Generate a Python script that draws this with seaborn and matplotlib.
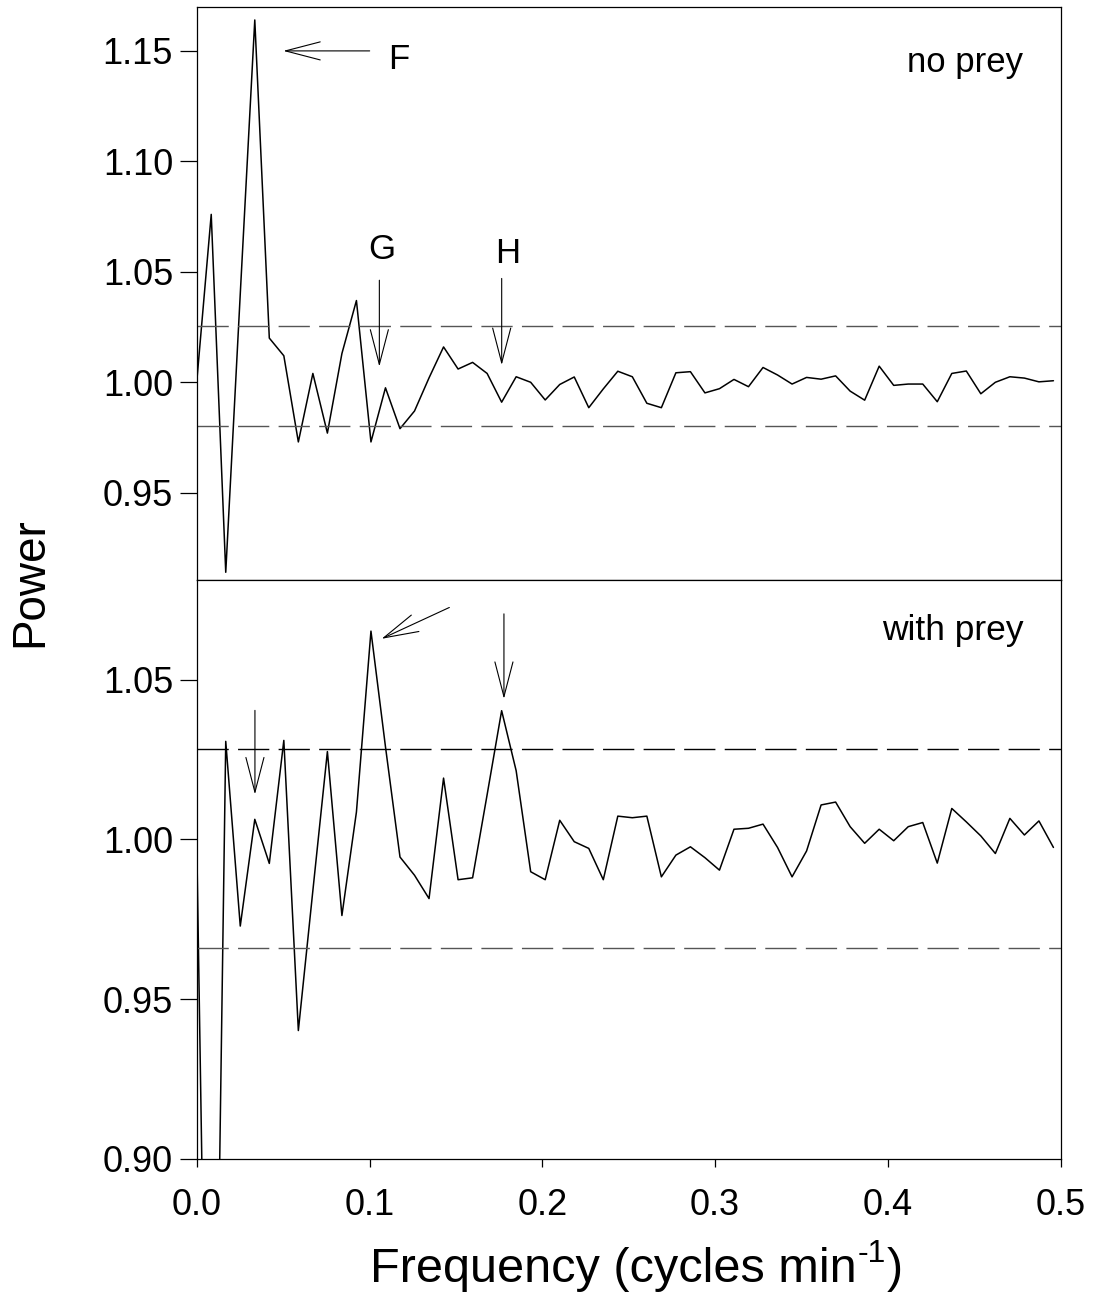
import numpy as np
import pandas as pd
import seaborn as sns
import matplotlib
matplotlib.use('Agg')
import matplotlib.pyplot as plt

# frequency grid (cycles/min), 60 periodogram points
freq = np.arange(60) / 119

no_prey = [1.000, 1.076, 0.914, 1.040, 1.164, 1.020, 1.012, 0.973, 1.004, 0.977,
           1.013, 1.037, 0.973, 0.9975, 0.979, 0.987, 1.002, 1.016, 1.006, 1.009,
           1.004, 0.991, 1.0025, 1.000, 0.992, 0.999, 1.0024, 0.9885, 0.997, 1.005,
           1.0025, 0.9905, 0.9885, 1.0043, 1.0048, 0.9952, 0.9971, 1.0013, 0.998, 1.0067,
           1.0033, 0.9992, 1.0022, 1.0014, 1.0029, 0.996, 0.9919, 1.0073, 0.9986, 0.9992,
           0.9992, 0.9912, 1.004, 1.0051, 0.9948, 1.000, 1.0025, 1.0019, 1.0002, 1.0007]

with_prey = [1.000, 0.715, 1.0307, 0.9729, 1.0063, 0.9925, 1.031, 0.9402, 0.984, 1.0275,
             0.9762, 1.0086, 1.0652, 1.029, 0.9945, 0.9888, 0.9815, 1.0192, 0.9874, 0.988,
             1.014, 1.0403, 1.0215, 0.9899, 0.9874, 1.006, 0.9993, 0.9972, 0.9874, 1.0073,
             1.0068, 1.0073, 0.9883, 0.9951, 0.9977, 0.9943, 0.9904, 1.0032, 1.0035, 1.0048,
             0.9975, 0.9883, 0.9964, 1.0108, 1.0117, 1.004, 0.9988, 1.0032, 0.9996, 1.004,
             1.0053, 0.9926, 1.0097, 1.0055, 1.0011, 0.9956, 1.0066, 1.0014, 1.0058, 0.9975]

# significance levels (dashed lines)
limits_no_prey = [1.0254, 0.9802]
limits_with_prey = [1.0284, 0.9659]

top_yticks = [0.95, 1.00, 1.05, 1.10, 1.15]
bottom_yticks = [0.90, 0.95, 1.00, 1.05]
xticks = [0.0, 0.1, 0.2, 0.3, 0.4, 0.5]

# arrows: (tail, tip)
top_arrows = [((0.1001, 1.15), (0.0501, 1.15)),
              ((0.1057, 1.0462), (0.1057, 1.0071)),
              ((0.1765, 1.047), (0.1765, 1.0078))]
top_letters = [('F', 0.1171, 1.1416), ('G', 0.1071, 1.056), ('H', 0.1797, 1.0538)]
bottom_arrows = [((0.0337, 1.0404), (0.0337, 1.0141)),
                 ((0.1462, 1.0726), (0.107, 1.0628)),
                 ((0.1778, 1.0706), (0.1778, 1.044))]

df = pd.DataFrame({'freq': freq, 'no_prey': no_prey, 'with_prey': with_prey})

sns.set_theme(style='white')
plt.rcParams['font.family'] = ['Liberation Sans', 'DejaVu Sans']
plt.rcParams['text.color'] = 'black'
plt.rcParams['axes.labelcolor'] = 'black'
plt.rcParams['axes.edgecolor'] = 'black'
plt.rcParams['axes.linewidth'] = 0.9

fig = plt.figure(figsize=(11, 13.06), dpi=100)
ax1 = fig.add_axes([0.17882, 0.55589, 0.78545, 0.43897])
ax2 = fig.add_axes([0.17882, 0.11256, 0.78545, 0.44334])

arrow_style = '->, head_length=25, head_width=6.5'


def draw_panel(ax, col, limits, colors, yticks, ylim):
    sns.lineplot(data=df, x='freq', y=col, ax=ax, color='black', lw=1.1,
                 estimator=None, sort=False)
    for y, c in zip(limits, colors):
        ax.axhline(y, color=c, lw=1.0, dashes=(22.5, 6.7))
    ax.set_xlim(0, 0.5)
    ax.set_ylim(*ylim)
    ax.set_yticks(yticks)
    ax.set_yticklabels([f'{t:.2f}' for t in yticks])
    ax.set_xlabel('')
    ax.set_ylabel('')
    ax.tick_params(axis='y', direction='out', length=12, width=0.9, pad=5,
                   labelsize=26, left=True, colors='black')


draw_panel(ax1, 'no_prey', limits_no_prey, ['#555555', '#555555'],
           top_yticks, (0.9105, 1.170))
ax1.tick_params(axis='x', bottom=False, labelbottom=False)

draw_panel(ax2, 'with_prey', limits_with_prey, ['black', '#555555'],
           bottom_yticks, (0.90, 1.0812))
ax2.set_xticks(xticks)
ax2.set_xticklabels([f'{t:.1f}' for t in xticks])
ax2.tick_params(axis='x', direction='out', length=6, width=0.9, pad=15,
                labelsize=26, bottom=True, colors='black')

for tail, tip in top_arrows:
    ax1.annotate('', xy=tip, xytext=tail,
                 arrowprops=dict(arrowstyle=arrow_style, mutation_scale=1,
                                 lw=0.8, color='black', shrinkA=0, shrinkB=0))
for s, x, y in top_letters:
    ax1.text(x, y, s, fontsize=25, ha='center', va='baseline')
for tail, tip in bottom_arrows:
    ax2.annotate('', xy=tip, xytext=tail,
                 arrowprops=dict(arrowstyle=arrow_style, mutation_scale=1,
                                 lw=0.8, color='black', shrinkA=0, shrinkB=0))

ax1.text(0.4784, 1.1405, 'no prey', fontsize=25, ha='right', va='baseline')
ax2.text(0.4788, 1.0623, 'with prey', fontsize=25.5, ha='right', va='baseline')

# x label with a plain hyphen in the superscript, built from three pieces
t1 = fig.text(370 / 1100, 1 - 1282 / 1306, 'Frequency (cycles min',
              fontsize=35, ha='left', va='baseline')
t2 = fig.text(0, 0, '-1', fontsize=23, ha='left', va='baseline',
              transform=matplotlib.transforms.offset_copy(
                  t1.get_transform(), fig=fig, x=0, y=0))
fig.canvas.draw()
bb = t1.get_window_extent()
t2.set_transform(fig.transFigure)
t2.set_position((bb.x1 / 1100 + 1 / 1100, 1 - 1262 / 1306))
fig.canvas.draw()
bb2 = t2.get_window_extent()
fig.text(bb2.x1 / 1100 + 1 / 1100, 1 - 1282 / 1306, ')', fontsize=35,
         ha='left', va='baseline')

fig.text(30.5 / 1100, 1 - 582 / 1306, 'Power', fontsize=33, rotation=90,
         ha='center', va='center')

fig.savefig('out.png', dpi=100)
